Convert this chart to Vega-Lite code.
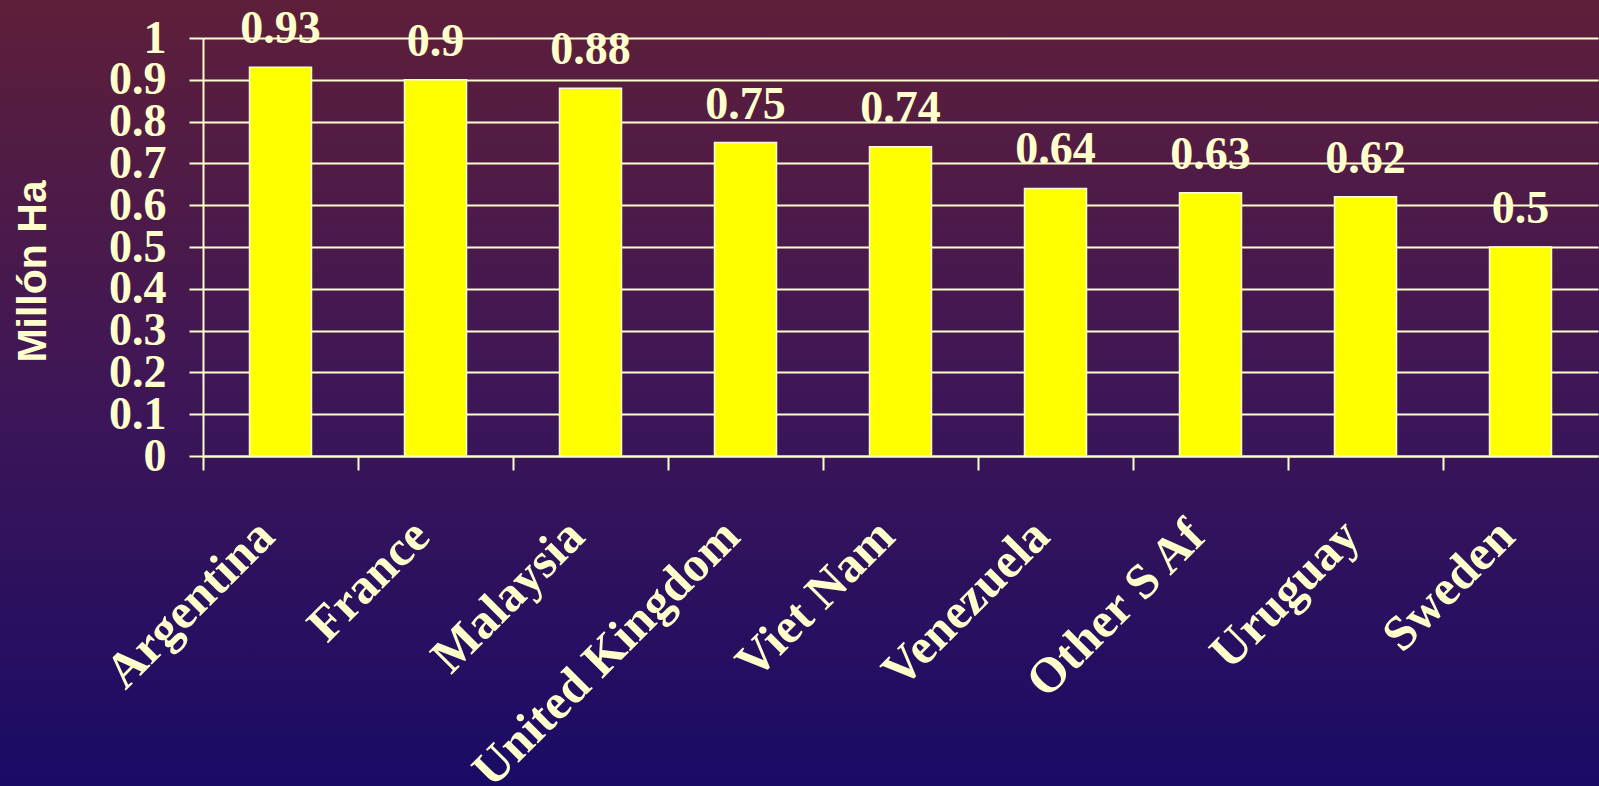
{
  "$schema": "https://vega.github.io/schema/vega-lite/v6.json",
  "width": 1599,
  "height": 786,
  "autosize": {"type": "none"},
  "padding": 0,
  "background": "#1a0b66",
  "data": {
    "values": [
      {"country": "Argentina", "area": 0.93},
      {"country": "France", "area": 0.9},
      {"country": "Malaysia", "area": 0.88},
      {"country": "United Kingdom", "area": 0.75},
      {"country": "Viet Nam", "area": 0.74},
      {"country": "Venezuela", "area": 0.64},
      {"country": "Other S Af", "area": 0.63},
      {"country": "Uruguay", "area": 0.62},
      {"country": "Sweden", "area": 0.5}
    ]
  },
  "encoding": {
    "x": {
      "field": "country",
      "type": "nominal",
      "sort": null,
      "scale": {"range": [203, 1598], "paddingInner": 0, "paddingOuter": 0},
      "axis": {
        "orient": "bottom",
        "offset": -330,
        "title": null,
        "bandPosition": 0,
        "tickSize": 14,
        "tickWidth": 2,
        "tickColor": "#ffffcc",
        "domainColor": "#ffffcc",
        "domainWidth": 2,
        "labelAngle": -45,
        "labelAlign": "right",
        "labelBaseline": "middle",
        "labelPadding": 58,
        "labelOffset": -14,
        "labelFont": "Liberation Serif",
        "labelFontWeight": "bold",
        "labelFontSize": 49.5,
        "labelColor": "#ffffcc",
        "labelLimit": 0,
        "labelOverlap": false,
        "labelBound": false,
        "grid": false
      }
    },
    "y": {
      "field": "area",
      "type": "quantitative",
      "scale": {"domain": [0, 1], "range": [456, 38], "nice": false},
      "axis": {
        "orient": "left",
        "offset": -203,
        "values": [0, 0.1, 0.2, 0.3, 0.4, 0.5, 0.6, 0.7, 0.8, 0.9, 1],
        "format": ".1~f",
        "tickSize": 14,
        "tickWidth": 2,
        "tickColor": "#ffffcc",
        "domainColor": "#ffffcc",
        "domainWidth": 2,
        "grid": true,
        "gridColor": "#ffffcc",
        "gridWidth": 2,
        "gridOpacity": 1,
        "labelPadding": 23,
        "labelFont": "Liberation Serif",
        "labelFontWeight": "bold",
        "labelFontSize": 46,
        "labelColor": "#ffffcc",
        "labelOverlap": false,
        "labelBound": false,
        "title": "Millón Ha",
        "titleFont": "Liberation Sans",
        "titleFontWeight": "bold",
        "titleFontSize": 41,
        "titleColor": "#ffffcc",
        "titleAngle": -90,
        "titleAlign": "center",
        "titleBaseline": "alphabetic",
        "titleX": -158,
        "titleY": 271
      }
    }
  },
  "layer": [
    {
      "mark": {
        "type": "bar",
        "width": {"band": 0.4},
        "fill": "#ffff00",
        "stroke": "#fffbe0",
        "strokeWidth": 1.5
      }
    },
    {
      "mark": {
        "type": "text",
        "baseline": "alphabetic",
        "align": "center",
        "dy": -24,
        "font": "Liberation Serif",
        "fontWeight": "bold",
        "fontSize": 46,
        "color": "#ffffcc"
      },
      "encoding": {
        "text": {"field": "area", "type": "quantitative", "format": "~g"}
      }
    }
  ],
  "config": {
    "view": {
      "stroke": null,
      "fill": {
        "gradient": "linear",
        "x1": 0, "y1": 0, "x2": 0, "y2": 1,
        "stops": [
          {"offset": 0, "color": "#5e1f39"},
          {"offset": 0.5, "color": "#3e1657"},
          {"offset": 1, "color": "#1a0b66"}
        ]
      }
    }
  }
}
